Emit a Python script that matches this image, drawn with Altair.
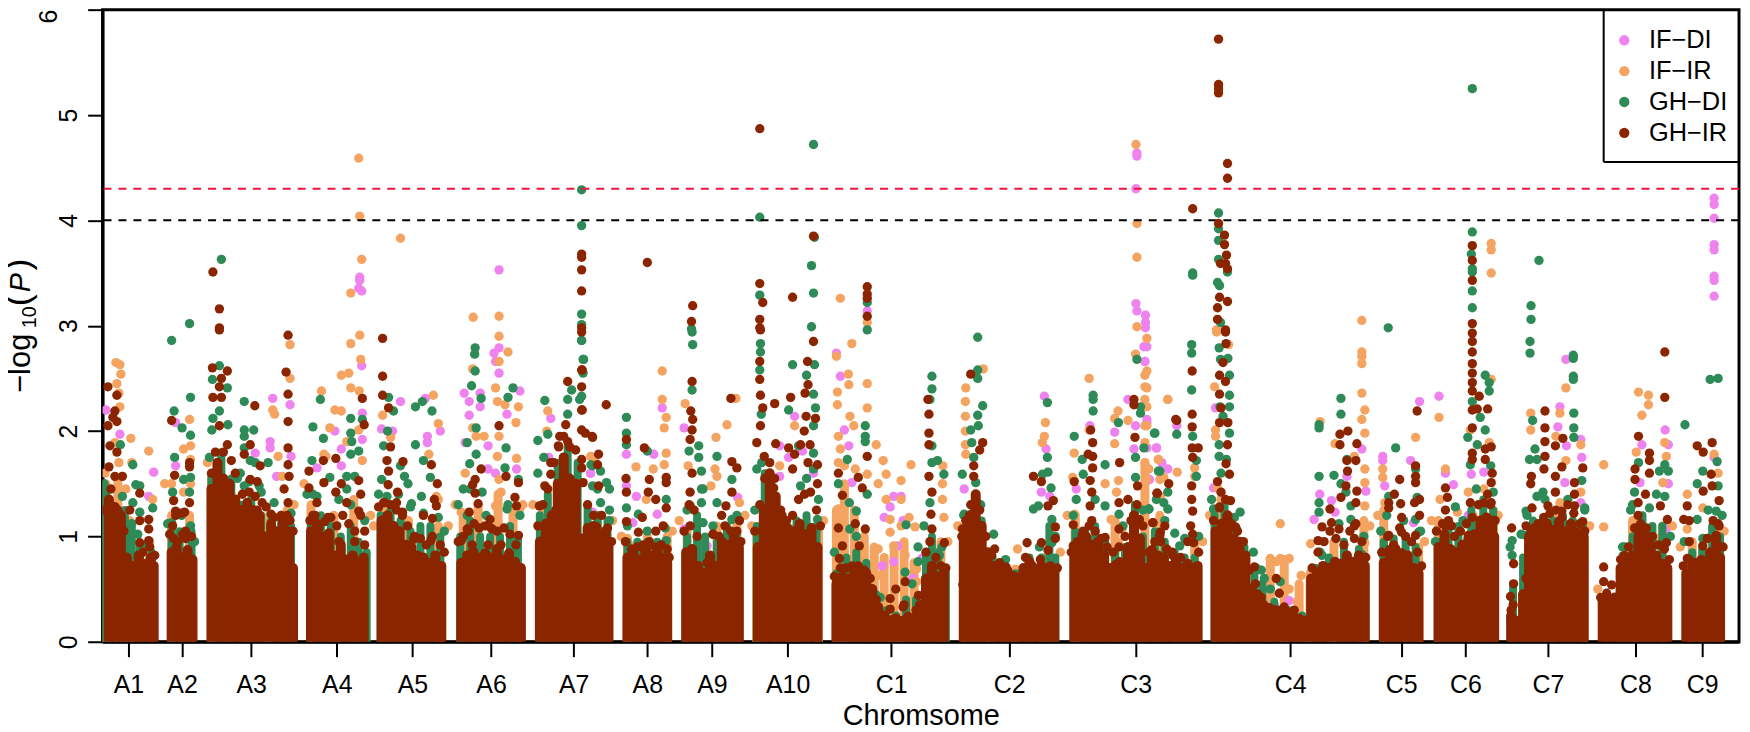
import altair as alt
import pandas as pd

SERIES = ["IF\u2212DI", "IF\u2212IR", "GH\u2212DI", "GH\u2212IR"]
COLORS = ["#EE82EE", "#F4A460", "#2E8B57", "#8B2500"]
TICK_POS = [128.6,182.5,252,338,414,493,576,650,715,791,895,1013.6,1140.7,1296,1407.6,1472,1555,1643,1710]
TICK_LAB = ["A1","A2","A3","A4","A5","A6","A7","A8","A9","A10","C1","C2","C3","C4","C5","C6","C7","C8","C9"]

BROWN_COLS = [
(109,1.35),(115,1.28),(121,1.2),(127,.8),(133,.72),(139,.82),(145,.74),(151,.8),(154,.72),
(172,.85),(177,.9),(182,.8),(188,.87),(193,.78),
(212,1.45),(218,1.7),(224,1.55),(230,1.5),(236,1.35),(242,1.25),(248,1.32),(254,1.25),(260,1.2),(266,1.0),(272,1.12),(278,1.05),(284,1.15),(290,1.05),(294,.7),
(312,1.05),(318,1.12),(324,1.0),(330,1.03),(336,.82),(342,.92),(348,.78),(354,.82),(360,.76),(365,.8),
(383,1.15),(389,1.2),(395,1.1),(401,1.05),(407,.92),(413,.9),(419,.82),(425,.8),(431,.75),(437,.82),(443,.72),
(463,.75),(469,.82),(475,.86),(481,.8),(487,.84),(493,.8),(499,.88),(505,.78),(511,.84),(517,.76),(523,.7),
(542,.95),(548,1.12),(554,1.2),(560,1.5),(566,1.75),(572,1.55),(578,1.5),(584,.98),(590,1.08),(596,1.1),(602,1.02),(608,1.05),(611,.9),
(630,.8),(636,.84),(642,.78),(648,.87),(654,.82),(660,.88),(666,.8),(670,.75),
(689,.85),(695,.88),(701,.72),(707,.65),(713,.82),(719,.72),(725,.95),(731,.92),(737,1.02),(742,.9),
(761,.9),(767,1.25),(773,1.6),(779,1.38),(785,1.2),(791,1.08),(797,1.05),(803,1.12),(809,1.02),(815,1.08),(821,.9),
(840,.55),(846,.62),(852,.6),(858,.7),(864,.68),(870,.65),(876,.5),(882,.33),(888,.25),(894,.2),(900,.22),(906,.2),(912,.24),(918,.22),(924,.35),(930,.6),(936,.72),(942,.62),(948,.65),
(968,1.0),(974,1.2),(980,1.4),(986,1.1),(992,.85),(998,.72),(1004,.68),(1010,.6),(1016,.63),(1022,.57),(1028,.7),(1034,.76),(1040,.68),(1046,.72),(1052,.66),(1059,.68),
(1079,.8),(1085,.92),(1091,1.0),(1097,.92),(1103,.95),(1109,.82),(1115,.7),(1121,.73),(1127,.68),(1133,.9),(1139,1.2),(1145,.98),(1151,.7),(1157,.87),(1163,.82),(1169,.8),(1175,.72),(1181,.76),(1187,.7),(1193,.74),(1199,.7),(1203,.72),
(1221,1.05),(1227,1.12),(1233,1.2),(1239,.98),(1245,.95),(1251,.82),(1257,.5),(1263,.45),(1269,.35),(1275,.32),(1281,.3),(1287,.3),(1293,.28),(1299,.24),(1305,.22),(1311,.2),(1317,.6),(1323,.66),(1329,.72),(1335,.7),(1341,.76),(1347,.74),(1353,.82),(1359,.76),(1365,.82),(1371,.72),
(1390,.75),(1396,.87),(1402,.88),(1408,.84),(1414,.82),(1420,.7),(1425,.65),
(1445,.9),(1451,1.02),(1457,.88),(1463,.85),(1469,.92),(1475,.98),(1481,1.02),(1487,1.15),(1493,1.18),(1499,1.15),(1501,1.0),
(1518,.25),(1524,.2),(1530,.45),(1536,1.0),(1542,1.08),(1548,1.04),(1554,1.12),(1560,1.06),(1566,1.14),(1572,1.05),(1578,1.12),(1584,1.04),(1591,1.0),
(1610,.4),(1616,.38),(1622,.42),(1628,.7),(1634,.78),(1640,.82),(1646,1.0),(1652,1.05),(1658,.92),(1664,.82),(1670,.74),(1675,.7),
(1694,.65),(1700,.72),(1706,.68),(1712,.72),(1718,.85),(1724,1.0),(1728,.8),
]
GREEN_COLS = [
(106,1.45),(125,1.25),(132,1.1),(140,.9),(152,.85),(172,1.05),(180,1.05),(192,1.05),
(212,1.6),(222,1.8),(232,1.55),(242,1.3),(252,1.35),(262,1.2),(272,1.15),(282,1.18),(292,1.1),
(312,1.15),(322,1.2),(332,1.1),(342,1.0),(352,1.1),(360,.95),(368,.85),
(382,1.2),(392,1.25),(402,1.15),(412,1.05),(422,1.1),(432,1.1),(442,1.0),
(462,1.0),(472,1.15),(482,1.0),(492,1.0),(502,1.0),(512,1.1),(520,1.0),
(542,1.2),(550,1.4),(560,1.7),(570,1.85),(580,1.7),(590,1.3),(600,1.2),(610,1.15),
(630,.95),(640,.95),(650,.95),(660,.95),(668,.95),
(690,1.0),(700,1.2),(708,1.0),(720,.95),(730,1.1),(740,1.05),
(760,1.1),(768,1.6),(780,1.2),(790,1.1),(800,1.15),(810,1.2),(820,1.1),
(840,.65),(850,.8),(860,.85),(870,.75),(880,.45),(890,.3),(900,.25),(910,.4),(920,.4),(930,.85),(936,1.0),(942,.85),(950,.7),
(970,1.05),(978,1.3),(986,1.15),(997,.8),(1008,.7),(1020,.65),(1034,.8),(1046,.8),(1054,1.1),(1060,.8),
(1080,1.05),(1090,1.05),(1100,1.1),(1110,.95),(1120,.85),(1130,.9),(1140,1.3),(1148,1.0),(1160,1.05),(1170,.95),(1180,.85),(1190,.8),(1200,.8),
(1220,1.2),(1230,1.3),(1240,1.05),(1250,.9),(1260,.7),(1268,.55),(1280,.38),(1295,.3),(1308,.25),(1322,.7),(1335,.8),(1350,.95),(1365,.88),
(1390,.95),(1400,.98),(1412,1.0),(1422,.9),
(1445,.95),(1455,1.05),(1465,1.1),(1478,1.25),(1490,1.35),(1500,1.25),
(1520,.55),(1530,.8),(1540,1.15),(1550,1.18),(1560,1.15),(1570,1.2),(1580,1.15),(1590,1.1),
(1630,.82),(1640,1.0),(1650,1.2),(1660,1.1),(1670,1.1),
(1700,.85),(1710,.9),(1720,1.1),(1728,1.0),
]
ORANGE_COLS = [
(106,1.5),(118,1.55),(130,1.15),(150,.95),(172,1.2),(190,1.2),(212,1.55),(230,1.3),(250,1.25),(270,1.2),(288,1.25),
(312,1.3),(335,1.2),(355,1.35),(385,1.25),(410,1.15),(440,1.1),(465,1.2),(480,1.3),(500,1.4),(515,1.25),(545,1.3),(600,1.2),
(630,.95),(650,1.0),(670,1.0),(690,1.05),(720,1.1),(740,1.15),(760,1.05),(800,1.1),(822,1.1),
(840,1.25),(848,1.5),(858,1.25),(868,1.0),(878,.9),(888,.8),(898,.9),(908,.95),(918,.75),(926,.4),(945,.95),
(970,1.1),(990,.65),(1020,.68),(1050,.8),(1080,1.2),(1100,1.05),(1120,1.15),(1150,1.7),(1165,1.2),(1200,.95),
(1222,1.25),(1240,.85),(1276,.78),(1290,.78),(1305,.55),(1316,.65),(1340,.95),(1370,1.15),
(1390,1.25),(1425,.9),(1445,1.15),(1480,1.2),(1500,1.25),(1560,1.2),(1590,1.05),(1640,1.15),(1670,1.1),(1700,.95),(1725,1.05),
]
PINK_PTS = [
(1142,4.64),(1142,4.61),(1141,4.30),(1141,3.21),(1142,3.14),(1150.6,3.10),(1150.6,3.03),(1150.6,2.98),(871,3.14),
(361,3.46),(361,3.43),(360,3.355),(363,3.33),(501,3.53),
(1722,4.21),(1722,4.15),(1722,4.02),(1722,3.77),(1722,3.72),(1722,3.47),(1722,3.43),(1722,3.28),
(106,2.2),(120,1.97),(154,1.61),(149,1.38),(176,1.67),(176,2.08),(363,2.62),(336,2.0),(342.5,1.83),(363.6,2.17),(363.6,1.92),(342.5,1.67),(318,1.65),(402,2.28),(383,2.02),(394,2.0),(429,1.95),(429,1.89),(442,2.0),(427,2.31),(501,2.79),(496,2.74),(497.5,2.66),(501,2.55),(466,2.36),(471,2.28),(482,2.36),(482,2.23),(522,2.38),(509,2.16),(471,2.15),(467,1.89),(490,1.86),(490,1.64),(497.5,1.6),(518.6,1.64),(271,1.9),(271,1.84),(256,1.79),(292,1.76),(273.6,2.31),(291,2.25),(277.5,1.57),(553,2.12),(551,1.75),(593,1.6),
(593,1.6),(595,1.23),(629,1.78),(656.5,1.78),(629,1.48),(639,1.38),(635.5,1.13),(660,1.21),(665,2.22),(687,2.03),(687,1.07),(710,.91),(740.8,1.37),(783,1.57),(783,1.86),(792,1.75),(798,2.14),(806,1.81),(817,1.6),(788.6,.93),(840,2.74),(844,2.52),(848,2.01),(852.5,1.86),(855.5,1.51),(894,1.28),(897.6,1.38),(905,1.38),(888,1.18),(907,1.15),(901.5,.91),(886,.72),(897.6,.76),(926,.79),(917,.6),(968.4,1.45),(1049,2.33),(1050.7,1.83),(1046,1.42),(1054.5,1.38),(1006,.09),(1094.7,2.05),(1119.6,1.99),(1133,2.3),(1140.6,2.05),(1150,2.66),(1149,2.8),(1152,2.11),(1161.7,1.84),(1139,1.83),(1154,1.54),(1081,1.45),(1173,1.64),
(1152,2.8),(1150,2.66),(1152,2.08),(1161.5,1.84),(1152,1.84),(1182,2.05),(1167,1.7),(1154.6,1.54),(1221,2.22),(1219,1.46),(1265,.16),(1259,.05),(1295,.39),(1280,.35),(1320,1.16),(1325.7,1.4),(1337.5,1.34),(1353,1.57),(1368,1.83),(1372,1.43),(1341,1.23),(1389,1.76),(1389,1.72),(1391,1.48),(1426,2.28),(1445.5,2.33),(1417,1.72),(1420,1.13),(1452,1.6),(1460,1.49),(1478,1.59),(1490.6,1.61),(1475,1.2),(1573,2.68),(1567,2.23),(1565,2.04),(1573.6,1.86),(1589,1.75),(1588,1.92),(1569,1.16),(1588,1.32),(1538.4,1.07),(1572,1.51),(1672.8,2.01),(1676,1.87),(1649.4,1.87),(1676,1.5),(1647.5,1.51),(1674,1.07),(1722,1.75),
]
ORANGE_PTS = [
(360,4.59),(361,4.04),(402,3.83),(363,3.63),(352,3.31),(475,3.08),(501,3.09),
(844,3.26),(1141,4.72),(1142,3.97),(1142,3.65),(1142,2.99),(871,3.03),
(1498,3.78),(1498,3.72),(1498,3.50),(1368,3.05),(1222,2.96),
(116,2.65),(120,2.63),(121,2.54),(117,2.45),(119,2.36),(120,2.23),(131,1.93),(149,1.81),(132,1.7),(190,2.11),(191,1.86),(184,1.83),(172,1.5),(191,1.73),(191,1.5),(184,1.42),(153,1.35),(126,1.45),(119,1.7),(115,1.89),(352,2.83),(361,2.91),(362,2.68),(342.5,2.53),(350,2.55),(352,2.41),(360.5,2.38),(322.6,2.38),(336,2.2),(342.5,2.19),(331,2.03),(325,1.78),(327,1.76),(363.6,1.72),(360,2.01),(348,1.9),(384,2.15),(392,1.94),(435,2.34),(440,2.07),(430.5,1.78),(438,1.38),(440,1.35),(501,2.9),(510,2.75),(501,2.66),(474.5,2.59),(497.5,2.41),(499.4,2.28),(507,2.25),(520.5,2.23),(518,2.08),(474.5,2.03),(486,1.95),(478,1.95),(501,1.95),(499.4,1.76),(518.6,1.74),(501,1.54),(503,1.42),(497.5,1.29),(463,1.23),(467,1.6),(522,1.26),(273.6,2.2),(275.5,2.16),(291,2.5),(291,2.82),(279,1.76),(283,1.57),(550,2.19),(549,2.0),(593,1.76),(597,1.73),
(665,2.57),(665,2.3),(669,2.13),(667,2.03),(669,1.79),(667,1.68),(638.6,1.66),(656,1.64),(688,2.26),(730,2.06),(719,1.94),(691,1.67),(739,2.31),(783,1.67),(718,1.64),(720,1.57),(714,1.48),(742.6,1.32),(798,2.05),(649,1.35),(630,.98),(637,.91),(855.5,2.83),(840,2.71),(852,2.54),(871,2.45),(852.5,2.44),(871,2.22),(841,2.37),(841,2.25),(853.6,2.14),(857.5,2.05),(842,1.95),(844,1.83),(880,1.87),(887,1.72),(915,1.68),(871,1.59),(890,1.59),(905,1.53),(882,1.5),(890,1.35),(905,1.35),(848,1.67),(859,1.64),(842,1.7),(842,1.26),(842,1.13),(848,1.48),(894,1.16),(905,1.1),(913,1.18),(919,1.09),(894,1.04),(882,.88),(897.6,.91),(909,.82),(884,.63),(920.6,.69),(920.6,.57),(947,1.67),(946.6,1.5),(946.6,1.35),(948,1.18),(970,2.41),(969.6,2.28),(969.6,2.14),(969.6,2),(969.6,1.87),(987.6,2.59),(970,1.78),(1022,.88),(1020,.69),(1050,2.08),(1049,1.95),(1047,1.89),(1094,2.5),(1079,1.79),(1094,2.01),(1077.5,1.56),(1079.4,1.21),(1110,1.5),(1123,2.19),(1119.6,2.12),(1119.6,1.88),(1123.4,1.53),(1121.5,1.42),(1116,1.16),(1173,2.3),(1150,2.53),(1150,2.42),(1150,2.3),(1133,2.1),(1140.6,2.73),(1150,2.05),(1150,1.89),(1150,1.7),(1163.6,1.73),(1152,1.54),(1169,1.56),(1127,1.07),(1123.4,.94),(1165.5,1.38),
(1152,2.88),(1152,2.57),(1152,2.41),(1173,2.3),(1152,2.23),(1152,2.05),(1163.4,1.73),(1182.5,1.61),(1154,1.64),(1165,1.54),(1200,1.65),(1200,1.57),(1222,2.94),(1234,2.82),(1220,2.42),(1221,2.01),(1221,1.95),(1223,1.46),(1222,1.07),(1226.5,1.35),(1286,1.12),(1276,.79),(1286,.79),(1295,.79),(1282,.76),(1307,.63),(1295,.5),(1303,.38),(1316.5,.93),(1326,2.09),(1341,1.88),(1368,2.75),(1368,2.71),(1368,2.64),(1368,2.36),(1371,2.2),(1368,2.11),(1371,1.98),(1371,1.64),(1371,1.51),(1371,1.29),(1371,.94),(1360.5,1.76),(1389,1.64),(1389,1.56),(1391,1.32),(1445.5,2.13),(1422,1.94),(1452,1.64),(1446.6,1.35),(1444.7,1.07),(1464,1.23),(1475,1.42),(1490.6,1.45),(1477,2.01),(1496,1.89),(1498,2.49),(1537.7,2.17),(1537.7,2.01),(1567,2.17),(1573,2.41),(1563,1.95),(1573,1.72),(1588,1.87),(1588,1.42),(1517.4,.22),(1523,.11),(1567,1.32),(1611,1.68),(1611,1.09),(1646,2.37),(1656,2.34),(1656,2.25),(1649.4,2.15),(1643.7,1.8),(1674,1.76),(1670.5,1.51),(1665,.98),(1695,1.4),(1695,1.07),(1672.4,1.89),(1710.6,1.27),(1722,1.78),(1726,1.6),
(105,1.6),(165,1.5),(208,1.7),(295,1.3),(305,1.5),(372,1.2),(375,1.1),(450,1.1),(457,1.3),(525,1.3),(535,1.3),(615,1.15),(624,1.0),(675,1.05),(682,1.15),(748,1.2),(755,1.1),(827,1.15),(952,.95),(962,1.1),(1065,.85),(1072,1.2),(1208,.95),(1215,1.2),(1376,1.1),(1384,1.2),(1431,.95),(1438,1.15),(1505,1.2),(1597,1.1),(1605,.5),(1680,1.1),(1688,.9),(1732,1.05),
]
GREEN_PTS = [
(222,3.63),(190,3.02),(584,4.29),(584,3.95),(584,3.11),(584,3.01),
(817,4.72),(763,4.03),(818,3.84),(815,3.57),(817,3.31),(763,3.29),(871,3.22),(694.4,2.97),(815,2.99),(871,2.96),
(1198,3.50),(1198,3.48),(1224,4.07),(1224,3.92),(1224,3.81),(1224,3.63),(1233,3.51),(1223,3.41),(1225,3.38),(1226,3.03),(1479,5.25),(1479,3.89),(1478,3.68),(1479,3.54),(1479,3.51),(1479,3.33),(1479,3.17),(1546,3.62),(1538,3.19),(1538,3.06),(1394.5,2.98),
(120.5,1.87),(133,1.68),(136,1.49),(140,1.48),(122.5,1.38),(133,1.32),(153,1.27),(140,1.23),(130,1.04),(130,.94),(132,.79),(172,2.86),(191,2.32),(174.5,2.19),(182.5,2.03),(191,1.96),(175,1.75),(184,1.54),(191,1.56),(173,1.42),(190,1.42),(172,1.13),(191,1.1),(220,2.62),(228,2.41),(213,2.49),(220,2.19),(213.5,2.12),(228.5,2.06),(212.4,2.01),(245,2.28),(254.5,2.01),(245,2.01),(245,1.95),(245,1.84),(251,1.72),(256,1.7),(269,1.7),(241,1.6),(245,1.48),(230,1.48),(260,1.48),(321.5,2.3),(314,2.04),(324.5,1.93),(313,1.72),(352,2.12),(363.6,2.11),(352,1.98),(353,1.9),(352,1.78),(360,1.81),(348,1.57),(356,1.57),(331,1.56),(314,1.4),(348,1.45),(390,2.32),(395,2.19),(389,2.0),(385,1.86),(417,2.23),(424,2.28),(433.6,2.19),(417,1.87),(402,1.67),(425,1.72),(406,1.57),(409.5,1.5),(383,1.54),(388.4,1.38),(413,1.31),(423,1.38),(432,1.56),(477,2.79),(476.5,2.73),(477,2.57),(473.4,2.43),(483,2.31),(510,2.32),(515,2.41),(478,2.03),(469,1.89),(478,1.78),(508,1.84),(471.5,1.69),(507,1.65),(465,1.45),(484,1.42),(520.5,1.54),(509,1.26),(469,1.2),(547,2.29),(540,1.91),(550,1.97),(584,2.86),(585.5,2.68),(585.5,2.55),(574,2.39),(570,2.3),(582,2.3),(570,2.16),(595,1.67),
(584,2.86),(586,2.68),(584,2.33),(593.4,1.68),(603,1.62),(609,1.51),(612,1.45),(603,1.32),(595,1.48),(612,1.15),(629,2.13),(629,1.98),(629,1.87),(629,1.27),(650,1.81),(641,1.21),(669,1.35),(669,.96),(695.6,2.82),(695,2.94),(695,2.39),(701.7,1.86),(701.7,1.75),(692,1.81),(720,1.76),(704.4,1.62),(704.4,1.45),(704.4,1.32),(706,1.13),(735,1.54),(720,1.32),(735,1.16),(763.7,2.83),(763.7,2.75),(763,2.58),(764.5,2.16),(796,2.63),(818,2.63),(810,2.53),(817,2.35),(819,2.22),(792,2.2),(817,2.05),(817,1.79),(760,1.64),(802,1.86),(817,1.64),(804,1.48),(821,1.16),(851,1.73),(842,1.5),(853,1.32),(871,1.4),(860,1.24),(853.6,1.07),(869,2.05),(869,1.95),(869,1.9),(936,2.52),(936,2.4),(934,2.3),(936,1.86),(936,1.7),(941.6,1.72),(948,1.59),(934,1.32),(943.6,.82),(909,.66),(922,.9),(922,.76),(910,1.11),(982,2.89),(982,2.58),(982,2.5),(987,2.24),(982,2.15),(982.6,2.05),(975,2.01),(976,1.89),(978,1.75),(966.5,1.59),(980,1.51),(980,1.35),(968.4,1.21),(998,1.02),(993,.74),(1052,2.27),(1052,1.75),(1052.6,1.61),(1047,1.59),(1055.7,1.46),(1043,1.29),(1038,1.26),(1056.5,1.16),(1056.5,.94),(1056.5,.79),(1033.5,.71),(1079,1.95),(1098,2.34),(1098,2.3),(1098,2.19),(1087,1.73),(1110,1.68),(1088,1.59),(1081,1.35),(1110,1.29),(1124,1.21),(1123.4,2.08),(1142,2.68),(1160,1.98),(1149,1.84),(1140.6,1.75),(1145.6,2.23),(1145.6,2.17),(1163.6,1.62),(1140.6,1.56),(1154,1.26),(1169,1.32),(1108,.69),(1131,.57),
(1197,2.82),(1197,2.74),(1197,2.39),(1182,1.97),(1159.6,1.98),(1165,1.62),(1173,1.42),(1161.5,1.35),(1173,1.26),(1154,1.26),(1180,1.03),(1201.7,1.57),(1201.7,1.72),(1198,1.95),(1185,.91),(1186,.76),(1224.6,2.79),(1233.4,2.69),(1226,2.68),(1235,2.53),(1235,2.34),(1225.4,2.23),(1235,2.23),(1228.5,2.14),(1235,1.98),(1224.6,1.87),(1224.6,1.76),(1232,1.73),(1226.5,1.6),(1219,1.26),(1245.7,1.23),(1242,1.07),(1259,.85),(1267,.68),(1286,.57),(1325,2.06),(1325,2.03),(1325,1.57),(1340,1.58),(1325,1.32),(1325,1.23),(1347,2.31),(1347,2.16),(1347,1.5),(1353,1.73),(1352,1.42),(1357,1.29),(1357,1.16),(1328,.82),(1368,.83),(1402,1.84),(1393,1.2),(1395,1.38),(1423.6,1.37),(1425,1.04),(1389,.83),(1422,1.64),(1422,1.16),(1469.6,1.15),(1479,2.28),(1474.5,1.94),(1484,1.87),(1492,2.53),(1496,2.46),(1496,2.38),(1487,2.13),(1492,2.01),(1477,1.68),(1497.5,1.67),(1483,1.45),(1539.6,2.1),(1542,1.83),(1537,2.85),(1537,2.74),(1580.5,2.72),(1580.5,2.69),(1580.5,2.52),(1580.5,2.49),(1581,2.17),(1581,2.03),(1581,1.94),(1589,1.53),(1592,1.27),(1536.5,1.73),(1544,1.73),(1544,1.38),(1550,1.42),(1533,1.24),(1533,1.01),(1519,.96),(1519,.82),(1646,1.7),(1642,1.42),(1672.4,1.68),(1667,1.62),(1676,1.62),(1672.4,1.38),(1638,1.25),(1657,1.27),(1632,.9),(1692.7,2.06),(1718,2.49),(1726,2.5),(1725,1.71),(1710.6,1.62),(1705,1.5),(1726,1.48),(1705,1.16),(1724,1.24),(1710.6,.98),
(104,1.5),(132,1.12),(138,1.02),(146,.92),(168,1.12),(182,1.2),(195,.95),(210,1.75),(238,1.55),(250,1.52),(262,1.42),(275,1.32),(292,1.22),(308,1.4),(318,1.38),(340,1.35),(352,1.3),(366,1.15),(380,1.4),(400,1.4),(412,1.28),(425,1.22),(440,1.18),(446,1.05),(460,1.3),(472,1.45),(488,1.2),(510,1.3),(522,1.2),(540,1.6),(546,1.75),(600,1.45),(612,1.25),(630,1.1),(650,1.05),(668,1.08),(690,1.25),(706,1.45),(716,1.1),(740,1.2),(758,1.25),(765,1.7),(810,1.55),(822,1.35),(838,.85),(860,1.0),(884,.42),(916,.55),(928,1.1),(946,.9),(968,1.2),(985,1.3),(1010,.78),(1044,.9),(1060,1.0),(1078,1.2),(1100,1.35),(1128,1.1),(1148,1.25),(1170,1.15),(1190,.98),(1204,1.0),(1217,1.35),(1240,1.18),(1262,.7),(1270,.6),(1276,.5),(1326,.85),(1345,1.12),(1370,1.0),(1387,1.05),(1410,1.15),(1427,1.05),(1442,.95),(1462,1.28),(1500,1.42),(1517,.9),(1528,1.02),(1534,1.2),(1552,1.35),(1575,1.35),(1592,1.25),(1630,.9),(1640,1.3),(1664,1.4),(1678,1.0),(1692,.95),(1716,1.25),(1730,1.2),
]
BROWN_PTS = [
(213.5,3.51),(220,3.16),(220,2.98),(584,3.68),(584,3.65),(584,3.53),(584,3.33),(584,2.98),
(763,4.87),(650,3.6),(695.6,3.19),(694.4,3.04),(763,3.40),(766,3.22),(763,3.06),(796,3.27),(817,3.85),(871,3.37),(871,3.3),(871,3.26),(871,3.09),(763,2.98),
(1224,5.72),(1224,5.29),(1224,5.25),(1224,5.21),(1233,4.54),(1233,4.40),(1198,4.11),(1224,3.97),(1230,3.86),(1230,3.77),(1232,3.67),(1226,3.59),(1231,3.59),(1233,3.54),(1225,3.27),(1233,3.23),(1223,3.17),(1223,3.06),(1231,2.96),(1479,3.76),(1479,3.62),(1479,3.43),(1479,3.02),
(108,2.42),(117,2.34),(115,2.19),(113,2.13),(117,2.09),(108,2.05),(110,1.86),(117,1.8),(109,1.66),(115,1.57),(122.5,1.57),(111,1.45),(140,1.41),(130,1.25),(140,1.15),(149,1.16),(149,1.07),(140,.94),(149,.96),(172,2.1),(190,1.7),(190,1.66),(175,1.58),(174,1.34),(176,1.24),(185,1.23),(190,1.32),(174,.98),(186,1.05),
(220,2.96),(289,2.91),(213,2.6),(228,2.57),(222,2.5),(220,2.42),(213.5,2.32),(222,2.32),(255.6,2.24),(287,2.56),(289,2.35),(289,2.09),(220,2.05),(228,1.87),(251,1.87),(245,1.78),(261,1.67),(289,1.84),(289,1.68),(290,1.57),(251,1.54),(258,1.52),(285,1.45),(289,1.32),(272,1.21),(291,1.15),
(384,2.88),(384,2.52),(384,2.34),(363.6,2.31),(365.5,2.06),(324.5,1.72),(337,1.74),(310,1.62),(325,1.51),(310,1.46),(342.5,1.5),(360,1.53),(362,1.4),(318,1.32),(337,1.42),(348,1.32),(314,1.2),(329,1.18),(360,1.24),
(390,2.22),(392,1.85),(388.4,1.72),(404.5,1.71),(390,1.62),(389.6,1.49),(399,1.42),(433,1.68),(439,1.5),(436,1.35),(438,1.29),(385,1.32),(398,1.32),(404,1.23),(425,1.2),(434,1.17),(415,.97),(432.5,.96),
(501,2.05),(483,1.64),(508,1.57),(477,1.54),(474.5,1.49),(477,1.41),(520.5,1.51),(517,1.37),(518.6,1.29),(480,1.31),(471,1.23),(492,1.16),(469,1.07),(494,1.07),(520.5,1.01),(463,.96),
(584,2.94),(584,2.58),(584,2.42),(584,2.2),(570,2.47),(568,2.06),(584,2.01),(595,1.94),(562,1.95),(570,1.9),(560.6,1.86),(553,1.7),(553,1.59),(584,1.73),(547,1.48),(541.5,1.29),(585.5,1.51),
(584.6,2.58),(584.6,2.2),(587.7,1.98),(594.5,1.95),(601,1.78),(600,1.68),(608.7,2.25),(601,1.48),(599,1.09),(629,1.92),(628.6,1.55),(629,1.42),(629,1.14),(647,1.84),(652,1.54),(651,1.42),(658.5,1.35),(669,1.56),(669,1.51),(669,1.27),(645,1.18),(641,1.04),(658.5,1.05),(666,1.1),(649,.88),(695,2.47),(693.7,2.19),(695.6,2.11),(695,2.01),(693,1.92),(734,2.31),(735,1.71),(740,1.65),(695,1.6),(693,1.42),(693,1.29),(693,1.1),(735,1.42),(729,1.29),(724.7,1.2),(742.6,1.15),(716,1.02),(763.7,2.34),(763,2.49),(763,2.66),(763.7,2.96),(766,2.22),(778,2.26),(763.7,2.05),(760,1.89),(767.5,1.76),(779,1.88),(794,2.32),(808.5,2.36),(811,2.66),(811.5,2.44),(809.6,2.14),(819,2.12),(807.7,2),(804,1.87),(813.5,1.87),(798,1.78),(811.5,1.7),(796,1.64),(821,1.68),(821,1.5),(777,1.46),(781,1.24),(792,1.84),(817,2.85),
(842,1.6),(846,1.39),(862,1.56),(866,1.46),(871,1.76),(842,1.08),(859,1.12),(869,1.07),(846,.91),(863,.91),(843,.79),(932,2.3),(933,2.16),(933,1.98),(933,1.87),(933,1.57),(936,1.42),(935,1.21),(936,1.07),(948.5,.94),(894,.41),(899.6,.5),(909,.57),(894,.31),(907,.33),(922.5,.44),
(975,2.54),(987,1.89),(984,1.82),(978,1.67),(978,1.57),(966.5,1.07),(972,1.15),(967,.54),(999,.88),(1010.5,.71),(1031.6,.94),(1031.6,.79),(1046,.94),(1038,1.57),(1046,1.52),(1052.6,1.29),(1058,1.34),(1060,1.09),(1060,.98),(1052.6,.87),
(1095.5,2.01),(1097.5,1.89),(1093,1.78),(1097.5,1.76),(1097.5,1.65),(1095,1.53),(1079,1.52),(1124.6,1.7),(1096.6,1.42),(1124,1.32),(1095,1.29),(1096.6,1.15),(1078,1.11),(1078,.91),(1087,1.01),(1110,.99),(1124,1.07),(1124.6,.76),
(1140,1.94),(1139,2.3),(1139,2.25),(1133,1.35),(1162.5,1.41),(1142.6,1.48),(1144.5,1.16),(1139,1.01),(1158,1.13),(1165.5,1.04),(1181,2.11),
(1182,2.1),(1197.5,2.57),(1197.5,2.16),(1197.5,2.04),(1197.5,1.84),(1203.6,1.84),(1198,1.75),(1174,1.5),(1162,1.41),(1197,1.48),(1197,1.35),(1198,1.24),(1196,1.1),(1170,1.1),(1165,1.01),(1158,1.13),(1199,.94),(1177.5,.85),(1231,2.94),(1231.5,2.83),(1228.5,2.65),(1225,2.53),(1231,2.47),(1225,2.35),(1226.5,2.22),(1225,2.08),(1233.4,2.08),(1233,1.87),(1231.5,1.69),(1235,1.59),(1223,1.52),(1226.5,1.42),(1236,1.34),(1225,1.27),(1232,1.16),(1241,1.09),(1221,.98),(1244,.91),(1260,.71),(1282,.6),(1285,.46),(1255,.13),
(1346,1.97),(1354,2.0),(1346,1.87),(1363,1.88),(1353,1.72),(1362,1.72),(1353.6,1.62),(1352,1.48),(1363,1.43),(1347,1.37),(1362,1.32),(1336,1.26),(1337.5,1.13),(1328,1.09),(1345,1.07),(1360.5,1.1),(1324,.96),(1360.5,.98),
(1406,1.54),(1400.7,1.4),(1407,1.31),(1422,1.67),(1422,1.57),(1422,1.51),(1426,1.35),(1421,1.32),(1426,1.2),(1395,1.32),(1395,1.27),(1408,1.18),(1395,1.01),(1408,1.04),(1422,1.01),(1423.6,2.19),
(1479,2.93),(1479,2.85),(1479,2.75),(1479,2.64),(1479,2.55),(1479,2.46),(1479,2.38),(1486,2.33),(1494.4,2.21),(1479,2.2),(1484,2.21),(1479,2.03),(1492,1.83),(1498,1.85),(1479,1.79),(1479,1.73),(1492,1.73),(1499,1.6),(1498,1.51),(1452,1.46),(1454,1.37),(1452,1.25),(1452,1.1),(1458,1.1),(1477,1.32),(1494.4,1.4),(1498,1.32),(1475,1.01),(1448.5,.91),
(1552,2.19),(1552,2.03),(1552,1.9),(1570,1.93),(1562.5,1.86),(1552,1.76),(1590,1.65),(1569,1.66),(1551,1.64),(1538.4,1.57),(1537.7,1.5),(1562.5,1.57),(1562.5,1.42),(1581.7,1.51),(1581.7,1.4),(1539,1.27),(1555,1.29),(1569,1.24),(1581.7,1.29),(1533,1.1),(1590,1.14),(1518.5,1.08),(1520.5,.74),(1520.5,.55),(1517.4,.43),(1518,.3),
(1672.4,2.75),(1672.4,2.32),(1646,1.95),(1657,1.79),(1657,1.72),(1642.5,1.64),(1657,1.6),(1642.5,1.54),(1653,1.4),(1668,1.29),(1645.6,1.32),(1675,1.16),(1645.6,1.2),(1643.7,1.07),(1611,.71),(1611,.57),(1619,.54),(1674,.94),(1632,.82),
(1705,1.86),(1711,1.8),(1720,1.89),(1719,1.59),(1720,1.48),(1711,1.43),(1727,1.34),(1695,1.29),(1691.5,1.16),(1697,1.15),(1726,1.12),(1697,.95),(1710.6,.91),(1695,.79),(1724,1.01),
(104,1.25),(110,1.3),(118,1.25),(124,1.05),(143,.85),(150,.9),(155,.82),
(170,1.02),(173,1.1),(178,.95),(183,1.02),(186,.98),(192,1.0),(176,1.2),(182,1.22),
(212,1.6),(216,1.8),(224,1.8),(232,1.72),(236,1.6),(228,1.5),(243,1.4),(250,1.42),(256,1.38),(263,1.32),(267,1.28),(275,1.18),(282,1.2),(288,1.2),(294,1.05),(247,1.25),(258,1.25),
(311,1.15),(316,1.2),(320,1.08),(326,1.14),(332,1.18),(338,1.1),(344,1.2),(350,1.12),(356,1.05),(362,1.2),(366,1.05),(340,.95),(356,.95),(366,.92),
(380,1.28),(386,1.32),(392,1.3),(398,1.25),(404,1.2),(409,1.1),(416,1.0),(422,.98),(428,.92),(434,1.0),(442,.92),(446,.85),(413,.88),
(460,.95),(465,1.0),(470,1.05),(476,1.12),(481,1.08),(487,1.1),(493,1.08),(499,1.05),(506,1.08),(512,1.02),(518,.92),(474,.92),(490,.92),(503,.92),
(540,1.1),(545,1.3),(550,1.45),(556,1.7),(561,1.85),(566,1.95),(572,1.85),(578,1.82),(584,1.65),(590,1.3),(596,1.2),(604,1.2),(610,1.08),(614,.95),(558,1.25),(575,1.3),
(628,.95),(634,.88),(640,.9),(646,.92),(652,.95),(658,.9),(664,.92),(670,.88),(672,.8),
(687,1.05),(692,1.3),(697,1.25),(700,1.0),(710,.75),(716,1.02),(722,1.0),(728,1.1),(734,1.05),(740,1.05),(744,.95),
(758,1.05),(763,1.3),(768,1.55),(773,1.7),(778,1.55),(784,1.25),(790,1.15),(796,1.2),(802,1.35),(808,1.4),(814,1.42),(820,1.25),(824,1.1),
(838,.62),(844,.7),(850,.7),(856,.72),(862,.72),(868,.68),(874,.6),(880,.4),(898,.22),(908,.35),(920,.3),(930,.85),(934,.95),(940,.8),(945,.72),(950,.7),
(966,1.0),(970,1.15),(975,1.3),(984,1.25),(990,1.0),(996,.82),(1004,.75),(1012,.68),(1020,.62),(1030,.8),(1037,.72),(1045,.78),(1055,.72),(1062,.7),
(1076,.85),(1082,.95),(1088,1.05),(1094,1.1),(1100,1.05),(1106,.98),(1112,.9),(1118,.85),(1124,.9),(1130,1.0),(1136,1.15),(1142,1.3),(1148,1.1),(1154,.85),(1160,.95),(1166,.95),(1172,.88),(1178,.82),(1186,.8),(1193,.95),(1198,1.02),(1204,.85),
(1219,1.15),(1225,1.28),(1231,1.35),(1237,1.12),(1243,1.05),(1249,.95),(1255,.68),(1261,.55),(1267,.42),(1290,.33),(1300,.3),(1318,.7),(1324,.85),(1330,.95),(1336,1.05),(1342,.98),(1350,.92),(1356,1.05),(1362,1.12),(1368,.95),(1372,.8),
(1388,.85),(1394,1.0),(1400,.92),(1406,1.08),(1412,1.0),(1418,.95),(1424,.85),(1428,.72),
(1443,1.05),(1449,1.12),(1455,1.15),(1461,1.0),(1467,1.05),(1473,1.12),(1479,1.18),(1485,1.3),(1491,1.32),(1497,1.3),(1502,1.15),
(1520,.35),(1533,.6),(1538,1.05),(1545,1.12),(1551,1.18),(1557,1.22),(1563,1.25),(1569,1.18),(1575,1.3),(1581,1.22),(1587,1.12),(1592,1.05),
(1608,.42),(1614,.46),(1628,.78),(1636,.9),(1642,1.08),(1648,1.12),(1654,1.08),(1660,1.0),(1666,.92),(1672,.88),(1677,.78),
(1691,.72),(1697,.78),(1703,.75),(1709,.78),(1715,.98),(1721,1.15),(1727,1.1),(1731,.9),
]

FONT = "Liberation Sans"
XDOM = [102.6, 1747]
x_s = alt.Scale(domain=XDOM, nice=False, zero=False)
y_s = alt.Scale(domain=[0, 6], nice=False)
col_s = alt.Scale(domain=SERIES, range=COLORS)

def cols(rows):
    return pd.DataFrame(rows, columns=["x", "y"])

def pts(rows, name):
    d = cols(rows)
    d["series"] = name
    return d

label_expr = "[" + ",".join(f"'{t}'" for t in TICK_LAB) + "][indexof([" + ",".join(str(v) for v in TICK_POS) + "],datum.value)]"

xp = alt.X("x:Q", scale=x_s, axis=alt.Axis(
    values=TICK_POS, labelExpr=label_expr, title="Chromsome", titleFont=FONT, titleFontSize=29,
    titleFontWeight="normal", titleColor="black", titlePadding=4, labelFont=FONT, labelFontSize=25, labelColor="black",
    tickColor="black", tickWidth=2, tickSize=15, labelPadding=16, domainColor="black", domainWidth=3,
    grid=False, labelOverlap=False, labelFlush=False))
yp = alt.Y("y:Q", scale=y_s, axis=alt.Axis(
    values=[0, 1, 2, 3, 4, 5, 6], title=None, labelFont=FONT, labelFontSize=25, labelColor="black", labelAngle=270,
    labelAlign="center", labelBaseline="bottom", tickColor="black", tickWidth=2, tickSize=15, labelPadding=6,
    labelExpr="datum.value == 6 ? '' : datum.label", domainColor="black", domainWidth=3, grid=False))

def column_layer(rows, colour, w):
    return alt.Chart(cols(rows)).mark_rule(color=colour, strokeWidth=w, strokeCap="round", clip=True).encode(
        x=xp, y=yp, y2=alt.datum(0))

def point_layer(df, legend=None):
    return alt.Chart(df).mark_circle(size=88, opacity=1, clip=True).encode(
        x=xp, y=yp, color=alt.Color("series:N", scale=col_s, legend=legend))

legend = alt.Legend(orient="none", legendX=1508, legendY=3, title=None,
                    padding=15, labelFont=FONT, labelFontSize=25.5, labelColor="black", symbolSize=107,
                    symbolType="circle", symbolOffset=-7, rowPadding=4, labelOffset=12, symbolOpacity=1, symbolStrokeWidth=0)

LEGEND_LEFT = 1611
LEGEND_BOTTOM = 4.555

def hline(value, colour):
    return alt.Chart(pd.DataFrame({"y": [value]})).mark_rule(color=colour, strokeWidth=2, strokeDash=[8, 7]).encode(y=yp)

legend_left = alt.Chart(pd.DataFrame({"x": [LEGEND_LEFT], "y": [6.0], "y2": [LEGEND_BOTTOM]})).mark_rule(
    color="black", strokeWidth=2).encode(x=xp, y=yp, y2="y2:Q")
legend_bottom = alt.Chart(pd.DataFrame({"x": [LEGEND_LEFT], "x2": [XDOM[1]], "y": [LEGEND_BOTTOM]})).mark_rule(
    color="black", strokeWidth=2).encode(x=xp, x2="x2:Q", y=yp)

def title_piece(text, x, y, size, style="normal"):
    return alt.Chart(pd.DataFrame({"t": [text]})).mark_text(
        angle=270, align="left", baseline="alphabetic", font=FONT, fontSize=size, fontStyle=style, color="black"
    ).encode(text="t:N", x=alt.value(x), y=alt.value(y))

chart = alt.layer(
    column_layer(ORANGE_COLS, COLORS[1], 9),
    point_layer(pd.concat([pts(PINK_PTS, SERIES[0]), pts(ORANGE_PTS, SERIES[1])]), legend),
    column_layer(GREEN_COLS, COLORS[2], 8),
    point_layer(pts(GREEN_PTS, SERIES[2])),
    hline(4.3, "#F0143C"),
    hline(4.0, "black"),
    column_layer(BROWN_COLS, COLORS[3], 10),
    point_layer(pts(BROWN_PTS, SERIES[3])),
    legend_left,
    legend_bottom,
    title_piece("\u2212log", -72.7, 385, 31),
    title_piece("10", -67, 320, 20),
    title_piece("(", -73, 298, 36),
    title_piece("P", -73, 284, 29, "italic"),
    title_piece(")", -73, 262, 36),
    title_piece("6", -46, 14, 25),
).properties(
    width=1644, height=635,
    autosize=alt.AutoSizeParams(type="none"),
    padding={"left": 95, "top": 0, "right": 3, "bottom": 88},
).configure_view(stroke="black", strokeWidth=3)

chart.save("out.html", embed_options={"renderer": "svg", "actions": False})
